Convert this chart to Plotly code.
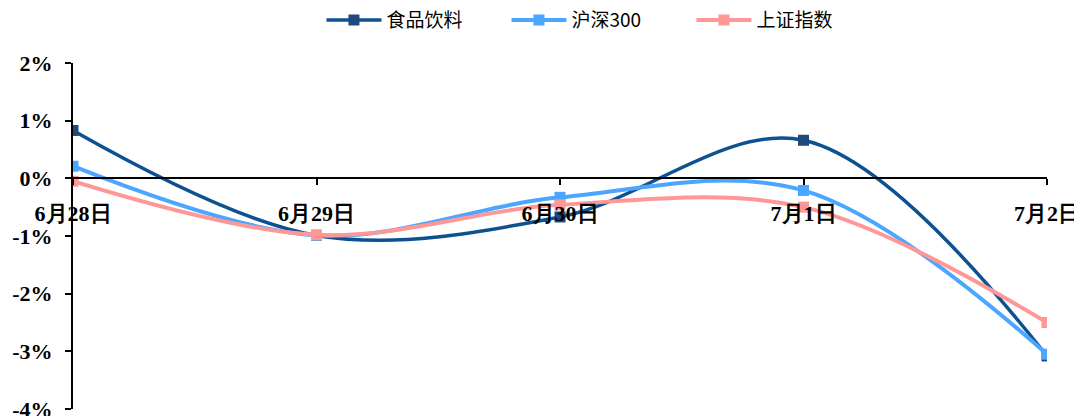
import plotly.graph_objects as go

dates = ["6月28日", "6月29日", "6月30日", "7月1日", "7月2日"]
food = [0.83, -0.99, -0.67, 0.66, -3.08]
hs300 = [0.21, -0.99, -0.33, -0.21, -3.05]
sh = [-0.05, -0.98, -0.46, -0.50, -2.50]
ytick_vals = [-4, -3, -2, -1, 0, 1, 2]
ytick_text = ["-4%", "-3%", "-2%", "-1%", "0%", "1%", "2%"]

series = [
    ("食品饮料", food, "#0D5191", "#1F497D", 3.5),
    ("沪深300", hs300, "#4BA6FF", "#4BA6FF", 4),
    ("上证指数", sh, "#FF9797", "#FF9797", 4),
]

fig = go.Figure()
for name, vals, lc, mc, w in series:
    fig.add_trace(go.Scatter(
        x=dates, y=vals, name=name, mode="lines+markers",
        line=dict(color=lc, width=w, shape="spline", smoothing=1.0),
        marker=dict(symbol="square", size=11, color=mc),
    ))

ytick_font = dict(family="Liberation Serif", size=22, color="#000000", weight="bold")
xtick_font = dict(family="Liberation Serif", size=22, color="#000000", weight="bold")

fig.update_layout(
    width=1082, height=416,
    margin=dict(l=65, r=43, t=55, b=15, autoexpand=False),
    plot_bgcolor="white", paper_bgcolor="white",
    showlegend=True,
    legend=dict(orientation="h", x=0.54, xanchor="center", y=1.124, yanchor="middle",
                font=dict(family="Noto Sans CJK SC", size=19, color="#000"),
                itemwidth=55, entrywidth=115, entrywidthmode="pixels",
                traceorder="normal"),
    xaxis=dict(
        type="category", range=[0, 4], anchor="free", position=4/6,
        showline=True, linecolor="black", linewidth=2,
        ticks="outside", ticklen=6, tickwidth=2, tickcolor="black",
        showgrid=False, zeroline=False, layer="above traces", automargin=False,
        tickfont=xtick_font, ticklabelstandoff=9,
    ),
    yaxis=dict(
        range=[-4, 2], tickvals=ytick_vals, ticktext=ytick_text,
        showline=True, linecolor="black", linewidth=2,
        ticks="outside", ticklen=6, tickwidth=2, tickcolor="black",
        showgrid=False, zeroline=False, layer="below traces", automargin=False,
        tickfont=ytick_font, ticklabelstandoff=8,
    ),
)

fig.write_html("out.html")
